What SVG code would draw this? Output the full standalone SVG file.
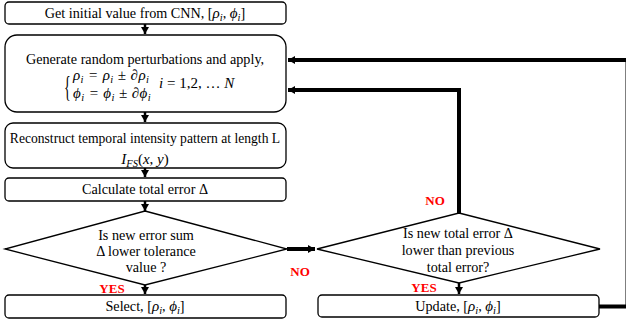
<svg xmlns="http://www.w3.org/2000/svg" width="626" height="325" viewBox="0 0 626 325">
<defs>
<style>
.box{fill:#fff;stroke:#000;stroke-width:1.3}
.t{font-family:"Liberation Serif","Times New Roman",serif;font-size:14.2px;fill:#000;text-anchor:middle}
.m{font-family:"Liberation Serif","Times New Roman",serif;font-style:italic;font-size:15px;fill:#000}
.mi{font-style:italic}
.s{font-size:10.5px}
.lab{font-family:"Liberation Serif","Times New Roman",serif;font-weight:bold;font-size:13px;fill:#ff0000;text-anchor:middle}
.c{fill:none;stroke:#000;stroke-width:2.5}
.ct{fill:none;stroke:#000;stroke-width:4}
</style>
<marker id="ah" markerUnits="userSpaceOnUse" markerWidth="10" markerHeight="10" refX="7" refY="4" orient="auto">
<path d="M0,0 L7,4 L0,8 Z" fill="#000"/>
</marker>
</defs>

<g id="connectors">
<line class="c" x1="145" y1="24" x2="145" y2="34" marker-end="url(#ah)"/>
<line class="c" x1="145" y1="112" x2="145" y2="122" marker-end="url(#ah)"/>
<line class="c" x1="145" y1="168" x2="145" y2="177" marker-end="url(#ah)"/>
<line class="c" x1="145" y1="201" x2="145" y2="211" marker-end="url(#ah)"/>
<line class="c" x1="145" y1="285" x2="145" y2="294" marker-end="url(#ah)"/>
<line class="c" x1="459" y1="283" x2="459" y2="294" marker-end="url(#ah)"/>
<line class="ct" x1="287" y1="249" x2="315" y2="249" marker-end="url(#ah)"/>
<path class="ct" d="M459,213 V90 H288" marker-end="url(#ah)"/>
<path class="ct" d="M599,306.5 H627.5 V60 H288" marker-end="url(#ah)"/>
</g>

<g id="n1">
<rect class="box" x="5" y="2" width="281" height="22" rx="4"/>
<text class="t" x="145" y="18">Get initial value from CNN, [<tspan class="mi" style="font-size:15px">ρ</tspan><tspan class="mi s" dy="3">i</tspan><tspan dy="-3">, </tspan><tspan class="mi" style="font-size:15px">ϕ</tspan><tspan class="mi s" dy="3">i</tspan><tspan dy="-3">]</tspan></text>
</g>

<g id="n2">
<rect class="box" x="5" y="35" width="281" height="77" rx="12"/>
<text class="t" x="145" y="64">Generate random perturbations and apply,</text>
<text x="0" y="0" transform="translate(64,95.5) scale(1,2.15)" style="font-family:'Liberation Serif',serif;font-size:14px">{</text>
<text class="m" x="73" y="80" letter-spacing="0.4">ρ<tspan class="s" dy="3">i</tspan><tspan dy="-3"> = ρ</tspan><tspan class="s" dy="3">i</tspan><tspan dy="-3"> ± ∂ρ</tspan><tspan class="s" dy="3">i</tspan></text>
<text class="m" x="73" y="98" letter-spacing="0.4">ϕ<tspan class="s" dy="3">i</tspan><tspan dy="-3"> = ϕ</tspan><tspan class="s" dy="3">i</tspan><tspan dy="-3"> ± ∂ϕ</tspan><tspan class="s" dy="3">i</tspan></text>
<text class="m" x="159" y="88">i <tspan style="font-style:normal">= 1,2, … </tspan>N</text>
</g>

<g id="n3">
<rect class="box" x="5" y="123" width="281" height="45" rx="8"/>
<text class="t" x="145" y="143" style="font-size:13.6px">Reconstruct temporal intensity pattern at length L</text>
<text class="m" x="145" y="164" text-anchor="middle">I<tspan class="s" dy="3">FS</tspan><tspan dy="-3" style="font-style:normal">(</tspan>x<tspan style="font-style:normal">, </tspan>y<tspan style="font-style:normal">)</tspan></text>
</g>

<g id="n4">
<rect class="box" x="5" y="178" width="281" height="23" rx="4"/>
<text class="t" x="145" y="194">Calculate total error Δ</text>
</g>

<g id="d1">
<polygon class="box" points="145,211 287,249 145,285 5,249"/>
<text class="t" x="146" y="240">Is new error sum</text>
<text class="t" x="146" y="256">Δ lower tolerance</text>
<text class="t" x="146" y="272">value ?</text>
</g>

<g id="d2">
<polygon class="box" points="459,213 600,249 459,283 317,249"/>
<text class="t" x="458" y="238">Is new total error Δ</text>
<text class="t" x="458" y="255">lower than previous</text>
<text class="t" x="458" y="272">total error?</text>
</g>

<g id="n5">
<rect class="box" x="5" y="295" width="281" height="23" rx="4"/>
<text class="t" x="145" y="311">Select, [<tspan class="mi" style="font-size:15px">ρ</tspan><tspan class="mi s" dy="3">i</tspan><tspan dy="-3">, </tspan><tspan class="mi" style="font-size:15px">ϕ</tspan><tspan class="mi s" dy="3">i</tspan><tspan dy="-3">]</tspan></text>
</g>

<g id="n6">
<rect class="box" x="318" y="295" width="281" height="22" rx="4"/>
<text class="t" x="458" y="311">Update, [<tspan class="mi" style="font-size:15px">ρ</tspan><tspan class="mi s" dy="3">i</tspan><tspan dy="-3">, </tspan><tspan class="mi" style="font-size:15px">ϕ</tspan><tspan class="mi s" dy="3">i</tspan><tspan dy="-3">]</tspan></text>
</g>

<g id="labels">
<text class="lab" x="435" y="205">NO</text>
<text class="lab" x="300" y="276">NO</text>
<text class="lab" x="112" y="293">YES</text>
<text class="lab" x="424" y="292">YES</text>
</g>
</svg>
